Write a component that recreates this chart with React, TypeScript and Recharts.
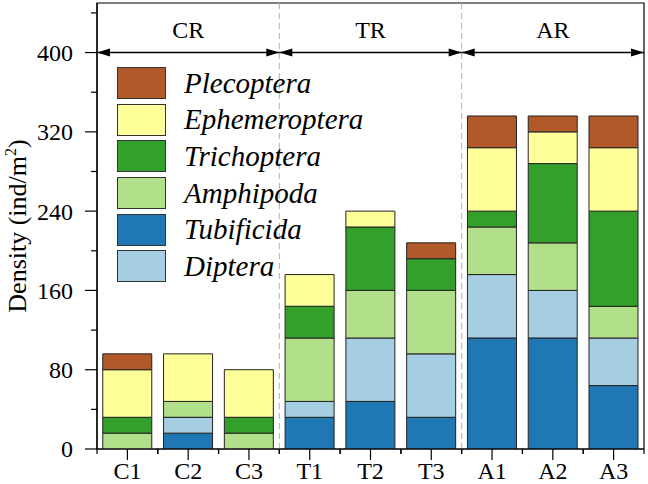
import React from 'react';
import {
  BarChart, Bar, XAxis, YAxis, ReferenceLine, ReferenceArea, Legend,
} from 'recharts';

const categories = ['C1', 'C2', 'C3', 'T1', 'T2', 'T3', 'A1', 'A2', 'A3'];
const tubificida = [0, 16, 0, 32, 48, 32, 112, 112, 64];
const diptera = [0, 16, 0, 16, 64, 64, 64, 48, 48];
const amphipoda = [16, 16, 16, 64, 48, 64, 48, 48, 32];
const trichoptera = [16, 0, 16, 32, 64, 32, 16, 80, 96];
const ephemeroptera = [48, 48, 48, 32, 16, 0, 64, 32, 64];
const plecoptera = [16, 0, 0, 0, 0, 16, 32, 16, 32];

// groups: label, first category, last category
const groupLabels = ['CR', 'TR', 'AR'];
const groupFirst = ['C1', 'T1', 'A1'];
const groupLast = ['C3', 'T3', 'A3'];
const yTicks = [0, 40, 80, 120, 160, 200, 240, 280, 320, 360, 400, 440];
const arrowLevel = 400;
const yMax = 450;

const series = [
  { key: 'Tubificida', values: tubificida, color: '#1f78b4' },
  { key: 'Diptera', values: diptera, color: '#a6cee3' },
  { key: 'Amphipoda', values: amphipoda, color: '#b2df8a' },
  { key: 'Trichoptera', values: trichoptera, color: '#33a02c' },
  { key: 'Ephemeroptera', values: ephemeroptera, color: '#ffff99' },
  { key: 'Plecoptera', values: plecoptera, color: '#b15928' },
];
const legendOrder = ['Plecoptera', 'Ephemeroptera', 'Trichoptera', 'Amphipoda', 'Tubificida', 'Diptera'];

const data = categories.map((name, i) => {
  const row: Record<string, any> = { name };
  series.forEach((s) => { row[s.key] = s.values[i]; });
  return row;
});

const FONT = '"Liberation Serif", "Times New Roman", serif';

const YTick = (props: any) => {
  const { x, y, payload } = props;
  const major = payload.value % 80 === 0;
  return (
    <g>
      <line x1={x} x2={x - (major ? 12 : 6)} y1={y} y2={y} stroke="#000" strokeWidth={1.2} />
      {major && (
        <text x={x - 24} y={y} dy="0.35em" textAnchor="end" fontSize={24} fontFamily={FONT} fill="#000">
          {payload.value}
        </text>
      )}
    </g>
  );
};

const XTick = (props: any) => {
  const { x, y, payload } = props;
  const half = payload.offset ?? 0;
  return (
    <g>
      <line x1={x} x2={x} y1={y} y2={y + 11} stroke="#000" strokeWidth={1.2} />
      <line x1={x - half} x2={x - half} y1={y} y2={y + 5} stroke="#000" strokeWidth={1.2} />
      <line x1={x + half} x2={x + half} y1={y} y2={y + 5} stroke="#000" strokeWidth={1.2} />
      <text x={x} y={y + 30} textAnchor="middle" fontSize={24} fontFamily={FONT} fill="#000">
        {payload.value}
      </text>
    </g>
  );
};

const YLabel = (props: any) => {
  const vb = props.viewBox || {};
  const cy = vb.y + vb.height / 2;
  const cx = 26;
  return (
    <text
      x={cx}
      y={cy}
      transform={`rotate(-90, ${cx}, ${cy})`}
      textAnchor="middle"
      fontSize={26}
      fontFamily={FONT}
      fill="#000"
    >
      Density (ind/m<tspan dy={-10} fontSize={16}>2</tspan><tspan dy={10}>)</tspan>
    </text>
  );
};

const makeArrow = (name: string) => (p: any) => {
  const { x1, y1, x2, y2 } = p;
  const h = 13;
  const w = 4;
  return (
    <g>
      <line x1={x1} y1={y1} x2={x2} y2={y2} stroke="#000" strokeWidth={1.5} />
      <polygon points={`${x1},${y1} ${x1 + h},${y1 - w} ${x1 + h},${y1 + w}`} fill="#000" />
      <polygon points={`${x2},${y2} ${x2 - h},${y2 - w} ${x2 - h},${y2 + w}`} fill="#000" />
      <text x={(x1 + x2) / 2} y={y1 - 15} textAnchor="middle" fontSize={24} fontFamily={FONT} fill="#000">
        {name}
      </text>
    </g>
  );
};

const LegendContent = () => (
  <div style={{ display: 'flex', flexDirection: 'column' }}>
    {legendOrder.map((k) => {
      const s = series.find((x) => x.key === k)!;
      return (
        <div key={k} style={{ display: 'flex', alignItems: 'center', height: 36.6 }}>
          <div
            style={{
              width: 47,
              height: 30,
              background: s.color,
              border: '1px solid #333',
              marginRight: 18,
              flex: 'none',
            }}
          />
          <span style={{ fontFamily: FONT, fontStyle: 'italic', fontSize: 29, color: '#000', lineHeight: 1, whiteSpace: 'nowrap' }}>
            {k}
          </span>
        </div>
      );
    })}
  </div>
);

export default function App() {
  return (
    <div style={{ position: 'absolute', left: 0, top: 0, width: 648, height: 484, background: '#fff' }}>
      <BarChart
        width={648}
        height={484}
        data={data}
        margin={{ top: 3, right: 4, bottom: 0, left: 0 }}
        barCategoryGap="9.5%"
      >
        <XAxis
          dataKey="name"
          interval={0}
          tickSize={0}
          tickMargin={0}
          tickLine={false}
          axisLine={{ stroke: '#000', strokeWidth: 1.2 }}
          tick={<XTick />}
          height={35}
        />
        <YAxis
          domain={[0, yMax]}
          ticks={yTicks}
          interval={0}
          allowDataOverflow
          width={97}
          tickSize={0}
          tickMargin={0}
          tickLine={false}
          axisLine={{ stroke: '#000', strokeWidth: 1.2 }}
          tick={<YTick />}
          label={<YLabel />}
        />
        <ReferenceArea
          x1={categories[0]}
          x2={categories[categories.length - 1]}
          y1={0}
          y2={yMax}
          fill="none"
          stroke="#000"
          strokeWidth={1.2}
          ifOverflow="visible"
        />
        {groupFirst.slice(1).map((c) => (
          <ReferenceLine key={`d${c}`} x={c} position="start" stroke="#b0b0b0" strokeDasharray="6 4" strokeWidth={1} />
        ))}
        {series.map((s) => (
          <Bar
            key={s.key}
            dataKey={s.key}
            stackId="a"
            fill={s.color}
            stroke="#222"
            strokeWidth={1}
            isAnimationActive={false}
            legendType="square"
          />
        ))}
        {groupLabels.map((g, i) => (
          <ReferenceLine
            key={g}
            position="end"
            segment={[
              { x: i === 0 ? undefined : groupLast[i - 1], y: arrowLevel },
              { x: groupLast[i], y: arrowLevel },
            ]}
            shape={makeArrow(g)}
            ifOverflow="visible"
          />
        ))}
        <Legend
          layout="horizontal"
          verticalAlign="middle"
          align="center"
          content={<LegendContent />}
          wrapperStyle={{ left: 117, top: 65, width: 300, height: 225 }}
        />
      </BarChart>
    </div>
  );
}
